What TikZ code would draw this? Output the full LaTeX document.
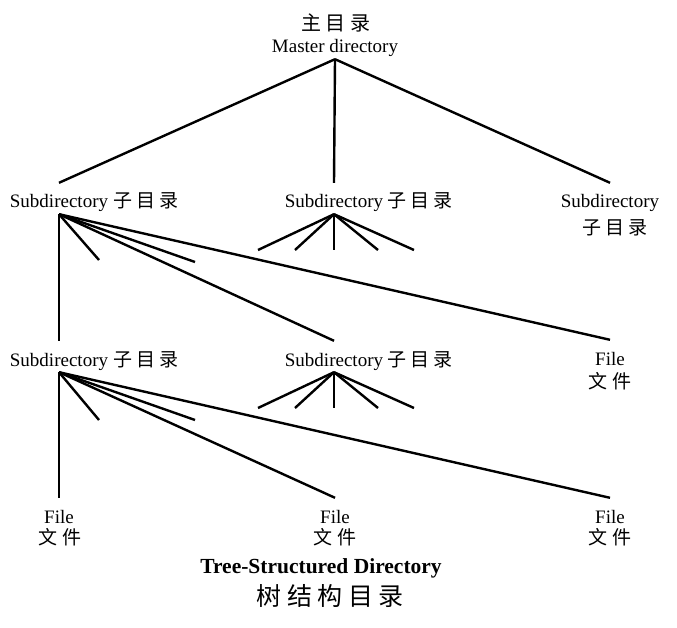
\documentclass[tikz,border=0pt]{standalone}
\usepackage{fontspec}
\setmainfont{Liberation Serif}
\newfontfamily\cjk[LetterSpace=22]{Noto Sans CJK SC}
\usetikzlibrary{positioning}
\tikzset{
    lbl/.style = {inner sep=1pt, text height=24pt, text depth=5pt, anchor=base, font=\fontsize{19}{21}\selectfont},
    lblz/.style = {inner sep=1pt, font=\cjk\fontsize{19}{21}\selectfont},
    ttl/.style = {inner sep=1pt, anchor=base, font=\bfseries\fontsize{21.5}{23}\selectfont},
    ttlz/.style = {inner sep=1pt, font=\cjk\fontsize{25}{27}\selectfont},
    edgen/.style = {line width=2.4pt},
}

\begin{document}
\begin{tikzpicture}[x=1pt,y=-1pt]
\useasboundingbox (0,0) rectangle (677,628);
%
\node[lblz, font=\cjk\fontsize{20}{22}\selectfont] at (336,23) (mdz) {主目录};
\node[lbl] at (335,53) (md) {Master directory};
% first level
\node[lbl] at (59,208) (sd1) {Subdirectory};
\node[lblz, right=3pt of sd1.base east, anchor=base west] (sz1) {子目录};
\node[lbl] at (334,208) (sd2) {Subdirectory};
\node[lblz, right=2pt of sd2.base east, anchor=base west] (sz2) {子目录};
\node[lbl] at (610,208) (sd3) {Subdirectory};
\node[lblz] at (615,228) (sz3) {子目录};
% second level
\node[lbl] at (59,366) (sd4) {Subdirectory};
\node[lblz, right=3pt of sd4.base east, anchor=base west] (sz4) {子目录};
\node[lbl] at (334,366) (sd5) {Subdirectory};
\node[lblz, right=2pt of sd5.base east, anchor=base west] (sz5) {子目录};
\node[lbl] at (610,365) (f1) {File};
\node[lblz] at (610,381) (fz1) {文件};
% files
\node[lbl] at (59,523) (f2) {File};
\node[lblz] at (60,537) (fz2) {文件};
\node[lbl] at (335,523) (f3) {File};
\node[lblz] at (335,537) (fz3) {文件};
\node[lbl] at (610,523) (f4) {File};
\node[lblz] at (610,537) (fz4) {文件};
% title
\node[ttl] at (321,573) (tt) {Tree-Structured Directory};
\node[ttlz] at (330,596) (ttz) {树结构目录};
%
\coordinate (a1) at (99,260);
\coordinate (a2) at (195,262);
\coordinate (b1) at (258,250);
\coordinate (b2) at (295,250);
\coordinate (b3) at (334,250);
\coordinate (b4) at (378,250);
\coordinate (b5) at (414,250);
\coordinate (c1) at (99,420);
\coordinate (c2) at (195,420);
\coordinate (d1) at (258,408);
\coordinate (d2) at (295,408);
\coordinate (d3) at (334,408);
\coordinate (d4) at (378,408);
\coordinate (d5) at (414,408);
%
\draw[edgen] (md.south) -- (sd1.north);
\draw[edgen] (md.south) -- (sd2.north);
\draw[edgen] (md.south) -- (sd3.north);
%
\draw[edgen] (sd1.south) -- (sd4.north);
\draw[edgen] (sd1.south) -- (a1);
\draw[edgen] (sd1.south) -- (a2);
\draw[edgen] (sd1.south) -- (sd5.north);
\draw[edgen] (sd1.south) -- (f1.north);
\foreach \p in {b1,b2,b3,b4,b5}
    \draw[edgen] (sd2.south) -- (\p);
%
\draw[edgen] (sd4.south) -- (f2.north);
\draw[edgen] (sd4.south) -- (c1);
\draw[edgen] (sd4.south) -- (c2);
\draw[edgen] (sd4.south) -- (f3.north);
\draw[edgen] (sd4.south) -- (f4.north);
\foreach \p in {d1,d2,d3,d4,d5}
    \draw[edgen] (sd5.south) -- (\p);

\end{tikzpicture}
\end{document}
